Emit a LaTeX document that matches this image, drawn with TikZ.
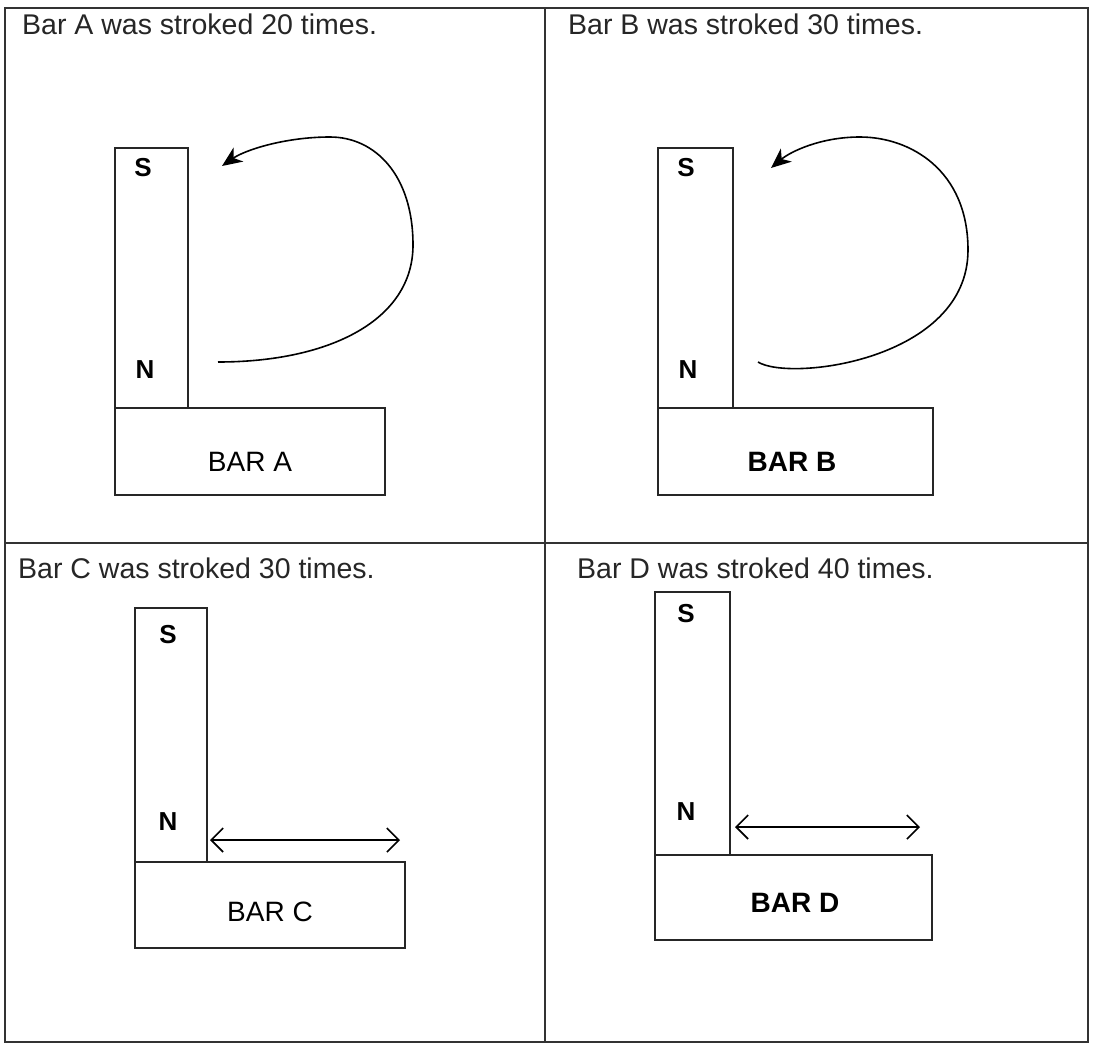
\documentclass[tikz,border=0pt]{standalone}
\usepackage{fontspec}
\setmainfont{Liberation Sans}
\usetikzlibrary{arrows.meta}
\tikzset{
  frameline/.style={draw=black!80, line width=1.3pt},
  boxshape/.style={draw=black!85, line width=1.3pt, rectangle, inner sep=0pt, outer sep=0pt, anchor=north west},
  caption/.style={font=\fontsize{28.5}{30}\selectfont, anchor=west, inner sep=0pt, text=black!85},
  pole/.style={font=\bfseries\fontsize{26}{28}\selectfont, inner sep=0pt},
  barlabel/.style={font=\fontsize{28}{30}\selectfont, inner sep=0pt},
  stroke/.style={draw=black, line width=1.6pt},
  curvearrow/.style={stroke, -{Stealth[length=20pt, width=17pt, inset=6pt]}},
  twoway/.style={draw=black, line width=1.5pt, {Straight Barb[length=12pt, width=24pt, line width=1.6pt]}-{Straight Barb[length=12pt, width=24pt, line width=1.6pt]}}
}
\begin{document}
\begin{tikzpicture}[x=1pt, y=-1pt]
\useasboundingbox (0,0) rectangle (1093,1050);
\fill[white] (0,0) rectangle (1093,1050);
% frame
\draw[frameline] (5,8) rectangle (1088,1042);
\draw[frameline] (545,8) -- (545,1042);
\draw[frameline] (5,543) -- (1088,543);
% captions
\node[caption] (capA) at (22,24) {Bar A was stroked 20 times.};
\node[caption] (capB) at (568,24) {Bar B was stroked 30 times.};
\node[caption] (capC) at (18,568) {Bar C was stroked 30 times.};
\node[caption] (capD) at (577,568) {Bar D was stroked 40 times.};
% Panel A
\node[boxshape, minimum width=73pt, minimum height=260pt] (magA) at (115,148) {};
\node[boxshape, minimum width=270pt, minimum height=87pt] (barA) at (115,408) {};
\node[pole] (sA) at (143,168) {S};
\node[pole] (nA) at (145,370) {N};
\node[barlabel] (tA) at (250,462) {BAR A};
\coordinate (a0) at (218,362);
\coordinate (a1) at (222,166);
\draw[curvearrow] (a0) .. controls (330,362) and (413,320) .. (413,245)
  .. controls (413,175) and (375,137) .. (330,137)
  .. controls (285,137) and (245,150) .. (a1);
% Panel B
\node[boxshape, minimum width=75pt, minimum height=260pt] (magB) at (658,148) {};
\node[boxshape, minimum width=275pt, minimum height=87pt] (barB) at (658,408) {};
\node[pole] (sB) at (686,168) {S};
\node[pole] (nB) at (688,370) {N};
\node[barlabel, font=\bfseries\fontsize{28}{30}\selectfont] (tB) at (792,462) {BAR B};
\coordinate (b0) at (758,362);
\coordinate (b1) at (771,168);
\draw[curvearrow] (b0) .. controls (790,382) and (968,360) .. (968,250)
  .. controls (968,170) and (910,137) .. (860,137)
  .. controls (820,137) and (790,152) .. (b1);
% Panel C
\node[boxshape, minimum width=72pt, minimum height=254pt] (magC) at (135,608) {};
\node[boxshape, minimum width=270pt, minimum height=86pt] (barC) at (135,862) {};
\node[pole] (sC) at (168,635) {S};
\node[pole] (nC) at (168,822) {N};
\node[barlabel] (tC) at (270,912) {BAR C};
\coordinate (c0) at (210,840);
\coordinate (c1) at (400,840);
\draw[twoway] (c0) -- (c1);
% Panel D
\node[boxshape, minimum width=75pt, minimum height=263pt] (magD) at (655,592) {};
\node[boxshape, minimum width=277pt, minimum height=85pt] (barD) at (655,855) {};
\node[pole] (sD) at (686,614) {S};
\node[pole] (nD) at (686,812) {N};
\node[barlabel, font=\bfseries\fontsize{28}{30}\selectfont] (tD) at (795,903) {BAR D};
\coordinate (d0) at (735,827);
\coordinate (d1) at (920,827);
\draw[twoway] (d0) -- (d1);
\end{tikzpicture}
\end{document}
